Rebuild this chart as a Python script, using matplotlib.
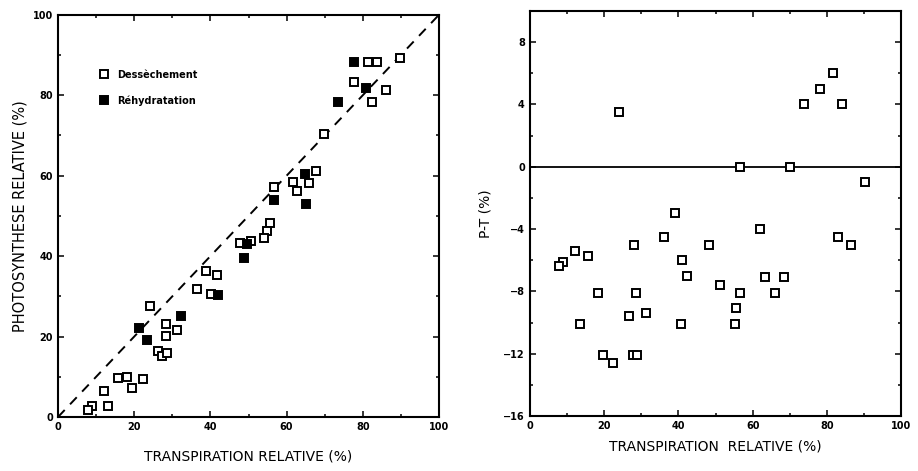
import matplotlib
matplotlib.use('Agg')
import matplotlib.pyplot as plt
from matplotlib.ticker import MultipleLocator

plt.rcParams['font.family'] = ['DejaVu Sans']

# ── données ────────────────────────────────────────────────
# panneau gauche : dessèchement (carrés vides)
dess_T = [89.8, 81.4, 83.7, 77.7, 86.1, 82.4, 69.8, 67.7, 61.7, 65.9, 62.7, 56.7,
          55.6, 54.8, 54.1, 50.7, 47.8, 38.8, 41.7, 36.5, 40.2, 24.1, 28.3, 31.2,
          28.3, 26.2, 27.3, 28.6, 15.7, 18.1, 22.3, 19.4, 12.1, 8.9, 7.9, 13.1]
dess_P = [89.3, 88.3, 88.3, 83.3, 81.3, 78.4, 70.4, 61.2, 58.5, 58.2, 56.2, 57.2,
          48.3, 46.3, 44.5, 43.8, 43.3, 36.3, 35.3, 31.8, 30.6, 27.6, 23.1, 21.6,
          20.1, 16.4, 15.2, 15.9, 9.7, 9.9, 9.5, 7.2, 6.5, 2.7, 1.7, 2.7]
# panneau gauche : réhydratation (carrés pleins)
rehy_T = [77.7, 80.8, 73.5, 64.8, 65.1, 56.7, 49.7, 48.8, 42.0, 32.3, 21.3, 23.4]
rehy_P = [88.3, 81.8, 78.4, 60.4, 53.0, 54.0, 43.0, 39.6, 30.3, 25.1, 22.1, 19.2]

# panneau droit : P - T
pt_T = [23.9, 81.7, 78.0, 73.7, 84.1, 56.7, 69.9, 90.3, 39.0, 36.0, 28.0, 12.3,
        15.6, 8.9, 7.8, 41.1, 42.3, 18.5, 28.5, 26.7, 31.4, 13.4, 40.6, 19.6,
        22.4, 27.8, 28.8, 62.0, 48.1, 82.9, 86.3, 51.3, 63.2, 68.3, 56.5, 66.1,
        55.6, 55.1]
pt_D = [3.5, 6.0, 5.0, 4.0, 4.0, 0.0, 0.0, -1.0, -3.0, -4.5, -5.0, -5.4,
        -5.7, -6.1, -6.4, -6.0, -7.0, -8.1, -8.1, -9.6, -9.4, -10.1, -10.1, -12.1,
        -12.6, -12.1, -12.1, -4.0, -5.0, -4.5, -5.0, -7.6, -7.1, -7.1, -8.1, -8.1,
        -9.1, -10.1]

x_ticks = [0, 20, 40, 60, 80, 100]
y_ticks_left = [0, 20, 40, 60, 80, 100]
y_ticks_right = [-16, -12, -8, -4, 0, 4, 8]

fig = plt.figure(figsize=(9.18, 4.71), dpi=100)
ax1 = fig.add_axes([0.0632, 0.1146, 0.415, 0.854])
ax2 = fig.add_axes([0.577, 0.1168, 0.405, 0.860])

sq = dict(marker='s', ms=6.2, mew=1.4, mec='black', linestyle='none')


def style(ax):
    for s in ax.spines.values():
        s.set_linewidth(1.5)
    ax.tick_params(which='both', direction='in', top=True, right=True,
                   labelsize=7, width=1.1)
    ax.tick_params(which='major', length=4)
    ax.tick_params(which='minor', length=2.5)
    for lab in ax.get_xticklabels() + ax.get_yticklabels():
        lab.set_fontweight('bold')


# ── gauche ─────────────────────────────────────────────────
ax1.plot([0, 100], [0, 100], color='black', lw=1.4, ls=(0, (5, 4)))
ax1.plot(dess_T, dess_P, mfc='white', label='Dessèchement', **sq)
ax1.plot(rehy_T, rehy_P, mfc='black', label='Réhydratation', **sq)
ax1.set_xlim(0, 100)
ax1.set_ylim(0, 100)
ax1.set_xticks(x_ticks)
ax1.set_yticks(y_ticks_left)
ax1.xaxis.set_minor_locator(MultipleLocator(10))
ax1.yaxis.set_minor_locator(MultipleLocator(10))
style(ax1)
ax1.set_xlabel('TRANSPIRATION RELATIVE (%)', fontsize=10, labelpad=13)
ax1.set_ylabel('PHOTOSYNTHESE RELATIVE (%)', fontsize=10.5, labelpad=4)
leg = ax1.legend(loc='upper left', bbox_to_anchor=(0.085, 0.885), frameon=False,
                 handletextpad=0.8, labelspacing=1.6, handlelength=1,
                 prop={'size': 7, 'weight': 'bold'})

# ── droite ─────────────────────────────────────────────────
ax2.axhline(0, color='black', lw=1.3, zorder=1)
ax2.plot(pt_T, pt_D, mfc='white', zorder=3, **sq)
ax2.set_xlim(0, 100)
ax2.set_ylim(-16, 10)
ax2.set_xticks(x_ticks)
ax2.set_yticks(y_ticks_right)
ax2.xaxis.set_minor_locator(MultipleLocator(10))
ax2.yaxis.set_minor_locator(MultipleLocator(2))
style(ax2)
ax2.set_xlabel('TRANSPIRATION  RELATIVE (%)', fontsize=10, labelpad=6)
ax2.set_ylabel('P-T (%)', fontsize=10, labelpad=8)

plt.savefig('out.png', dpi=100)
plt.close()
